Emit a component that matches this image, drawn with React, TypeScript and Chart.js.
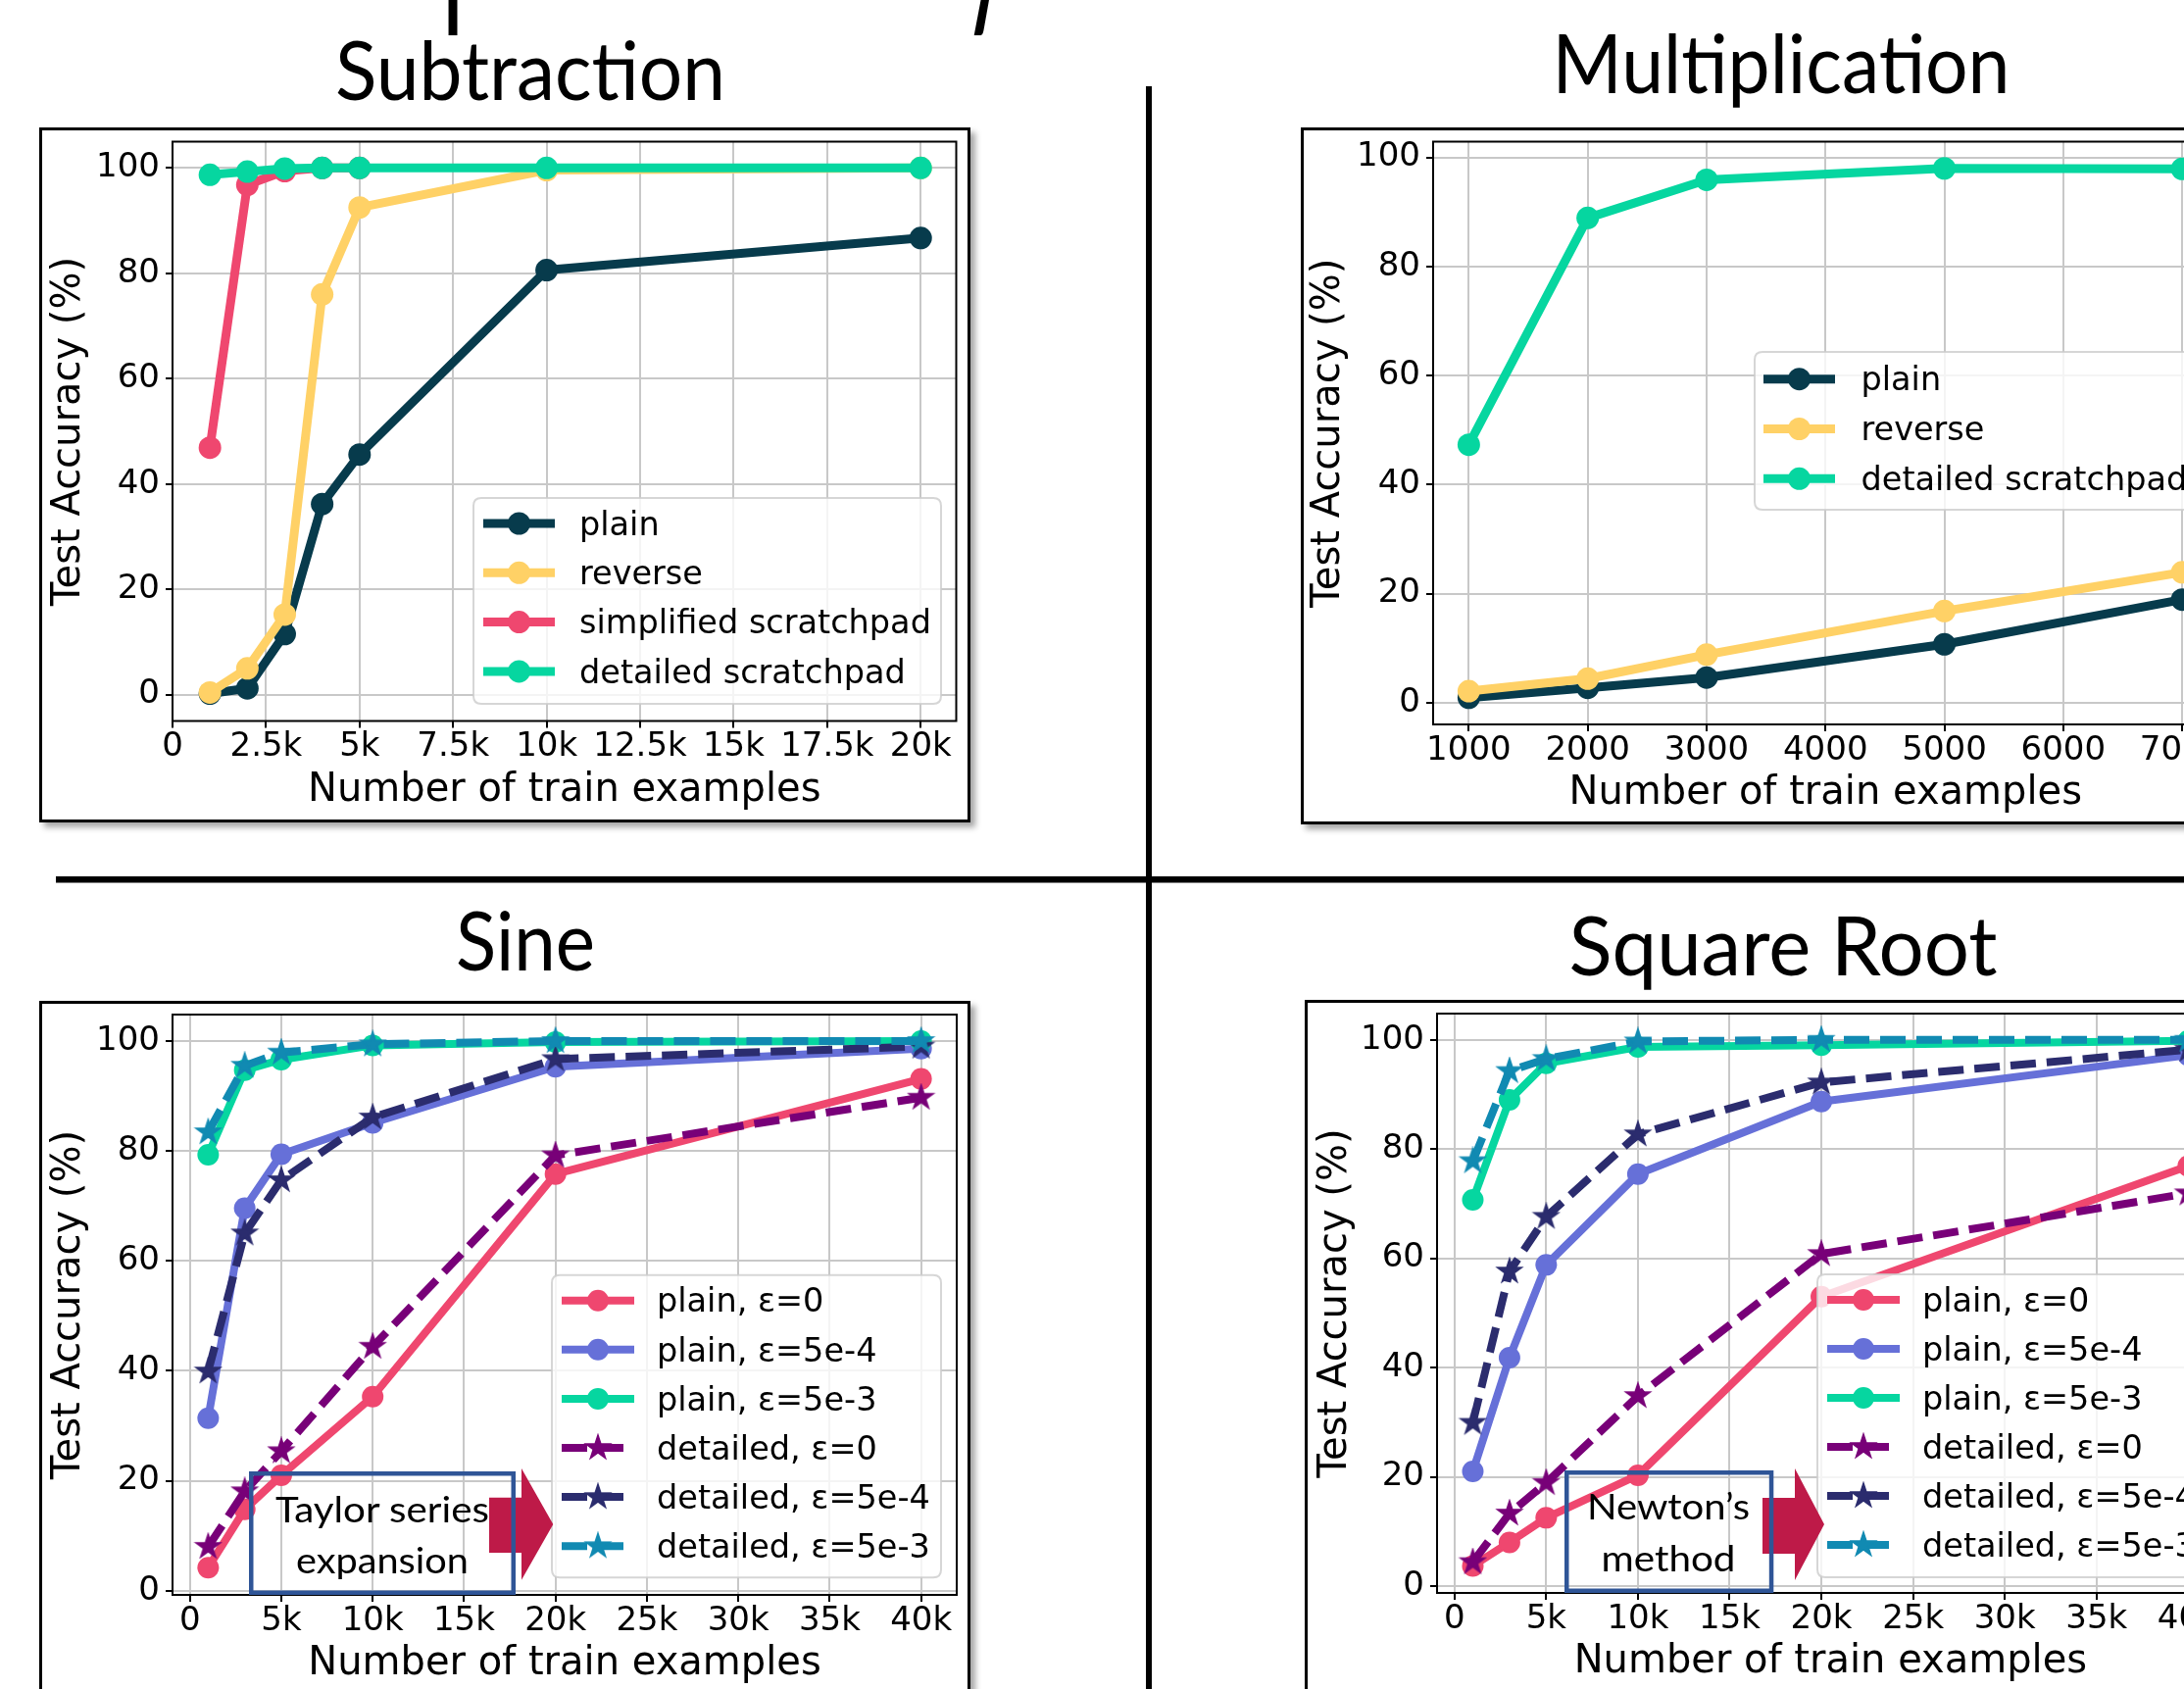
import React, { useEffect, useRef } from 'react';
import { Chart, registerables } from 'chart.js';

Chart.register(...registerables);

const FONT = "'DejaVu Sans', sans-serif";
const TITLE_FONT = "Lato, 'Open Sans', sans-serif";

// ---------------- data ----------------
const accTicks = [0, 20, 40, 60, 80, 100];

const subX = [1000, 2000, 3000, 4000, 5000, 10000, 20000];
const subSimpX = [1000, 2000, 3000, 4000, 5000];
const subPlain = [0.2, 1.2, 11.5, 36.2, 45.6, 80.6, 86.7];
const subReverse = [0.4, 5.0, 15.2, 76.0, 92.5, 99.6, 100];
const subSimplified = [46.9, 96.8, 99.4, 100, 100];
const subDetailed = [98.7, 99.3, 99.9, 100, 100, 100, 100];
const subXTicks = [0, 2500, 5000, 7500, 10000, 12500, 15000, 17500, 20000];
const subXTickLabels = ['0', '2.5k', '5k', '7.5k', '10k', '12.5k', '15k', '17.5k', '20k'];

const mulX = [1000, 2000, 3000, 5000, 7000];
const mulPlain = [0.9, 2.7, 4.6, 10.7, 18.9];
const mulReverse = [2.1, 4.4, 8.8, 16.8, 23.9];
const mulDetailed = [47.3, 88.9, 95.9, 98.0, 97.9];
const mulXTicks = [1000, 2000, 3000, 4000, 5000, 6000, 7000];
const mulXTickLabels = ['1000', '2000', '3000', '4000', '5000', '6000', '7000'];

const fnX = [1000, 3000, 5000, 10000, 20000, 40000];
const fnXTicks = [0, 5000, 10000, 15000, 20000, 25000, 30000, 35000, 40000];
const fnXTickLabels = ['0', '5k', '10k', '15k', '20k', '25k', '30k', '35k', '40k'];

const sinPlain0 = [4.2, 14.8, 21.0, 35.3, 75.8, 93.1];
const sinPlain5e4 = [31.4, 69.6, 79.4, 85.1, 95.3, 98.6];
const sinPlain5e3 = [79.3, 94.7, 96.6, 99.2, 99.8, 100];
const sinDet0 = [8.0, 18.1, 25.4, 44.4, 79.2, 89.7];
const sinDet5e4 = [39.9, 65.0, 74.7, 86.1, 96.7, 99.0];
const sinDet5e3 = [83.4, 95.5, 97.9, 99.4, 100, 100];

const sqrtPlain0 = [3.7, 8.0, 12.5, 20.3, 53.0, 76.9];
const sqrtPlain5e4 = [21.0, 41.8, 58.8, 75.4, 88.7, 97.2];
const sqrtPlain5e3 = [70.7, 89.0, 95.7, 98.7, 99.0, 99.8];
const sqrtDet0 = [4.4, 13.3, 18.9, 34.8, 60.8, 71.9];
const sqrtDet5e4 = [29.9, 57.6, 67.6, 82.7, 92.2, 98.2];
const sqrtDet5e3 = [77.8, 94.3, 96.5, 99.7, 100, 100];

const fnLabels = ['plain, ε=0', 'plain, ε=5e-4', 'plain, ε=5e-3', 'detailed, ε=0', 'detailed, ε=5e-4', 'detailed, ε=5e-3'];

// ---------------- styles ----------------
const C = {
  dark: '#073b4c',
  yellow: '#ffd166',
  pink: '#ef476f',
  green: '#06d6a0',
  blue: '#118ab2',
  peri: '#6670d8',
  purple: '#780078',
  navy: '#2b2c6e',
};
const GRID = '#c8c8c8';

type Series = { label: string; xs: number[]; ys: number[]; color: string; dashed?: boolean; star?: boolean };
type Legend = { x: number; y: number; w: number; h: number; first: number; spacing: number; lineOff: number; lineLen: number; textOff: number };
type Spec = {
  cx: number; cy: number; cw: number; ch: number;
  area: { l: number; t: number; r: number; b: number };
  xMin: number; xMax: number; yMin: number; yMax: number;
  xTicks: number[]; xTickLabels: string[];
  series: Series[];
  lw: number; mr: number; sr: number;
  yTitleCenter: number; xTitleFromBottom: number;
  legend: Legend;
};

function makeStar(color: string, R: number): HTMLCanvasElement {
  const s = Math.ceil(2 * R + 4);
  const c = document.createElement('canvas');
  c.width = s;
  c.height = s;
  const ctx = c.getContext('2d')!;
  const cx = s / 2, cy = s / 2, r = R * 0.382;
  ctx.beginPath();
  for (let i = 0; i < 10; i++) {
    const rad = i % 2 === 0 ? R : r;
    const a = -Math.PI / 2 + (i * Math.PI) / 5;
    ctx.lineTo(cx + rad * Math.cos(a), cy + rad * Math.sin(a));
  }
  ctx.closePath();
  ctx.fillStyle = color;
  ctx.fill();
  ctx.lineWidth = 1.5;
  ctx.strokeStyle = color;
  ctx.stroke();
  return c;
}

function buildConfig(spec: Spec): any {
  const { cx, cy, cw, ch, area } = spec;
  const yW = area.l - cx;
  const padTop = area.t - cy;
  const padRight = cx + cw - area.r;
  const xH = cy + ch - area.b;
  const dash = [26, 11];

  const datasets = spec.series.map((s, i) => ({
    label: s.label,
    data: s.xs.map((x, j) => ({ x, y: s.ys[j] })),
    borderColor: s.color,
    backgroundColor: s.color,
    borderWidth: spec.lw,
    borderDash: s.dashed ? dash : [],
    borderJoinStyle: 'round',
    borderCapStyle: 'butt',
    pointStyle: s.star ? makeStar(s.color, spec.sr) : 'circle',
    pointRadius: spec.mr,
    pointHoverRadius: spec.mr,
    pointBorderWidth: 0,
    pointBackgroundColor: s.color,
    tension: 0,
    fill: false,
    order: -i,
  }));

  const spinePlugin = {
    id: 'spines',
    afterDatasetsDraw(chart: any) {
      const { ctx, chartArea: a } = chart;
      ctx.save();
      ctx.strokeStyle = '#000';
      ctx.lineWidth = 2;
      ctx.strokeRect(a.left, a.top, a.right - a.left, a.bottom - a.top);
      ctx.restore();
    },
  };

  const lg = spec.legend;
  const legendPlugin = {
    id: 'mplLegend',
    afterDraw(chart: any) {
      const ctx = chart.ctx;
      const x = lg.x - cx, y = lg.y - cy;
      ctx.save();
      const rr = 8;
      ctx.beginPath();
      ctx.moveTo(x + rr, y);
      ctx.lineTo(x + lg.w - rr, y);
      ctx.quadraticCurveTo(x + lg.w, y, x + lg.w, y + rr);
      ctx.lineTo(x + lg.w, y + lg.h - rr);
      ctx.quadraticCurveTo(x + lg.w, y + lg.h, x + lg.w - rr, y + lg.h);
      ctx.lineTo(x + rr, y + lg.h);
      ctx.quadraticCurveTo(x, y + lg.h, x, y + lg.h - rr);
      ctx.lineTo(x, y + rr);
      ctx.quadraticCurveTo(x, y, x + rr, y);
      ctx.closePath();
      ctx.fillStyle = 'rgba(255,255,255,0.8)';
      ctx.fill();
      ctx.strokeStyle = 'rgba(204,204,204,0.8)';
      ctx.lineWidth = 2;
      ctx.stroke();
      chart.data.datasets.forEach((ds: any, i: number) => {
        const yy = y + lg.first + i * lg.spacing;
        const x0 = x + lg.lineOff;
        ctx.save();
        ctx.strokeStyle = ds.borderColor;
        ctx.lineWidth = ds.borderWidth;
        ctx.setLineDash(ds.borderDash || []);
        ctx.beginPath();
        ctx.moveTo(x0, yy);
        ctx.lineTo(x0 + lg.lineLen, yy);
        ctx.stroke();
        ctx.restore();
        const mx = x0 + lg.lineLen / 2;
        if (typeof ds.pointStyle === 'object') {
          const img = ds.pointStyle as HTMLCanvasElement;
          ctx.drawImage(img, mx - img.width / 2, yy - img.height / 2);
        } else {
          ctx.beginPath();
          ctx.arc(mx, yy, ds.pointRadius, 0, Math.PI * 2);
          ctx.fillStyle = ds.borderColor;
          ctx.fill();
        }
        ctx.fillStyle = '#000';
        ctx.font = `33.5px ${FONT}`;
        ctx.textBaseline = 'middle';
        ctx.textAlign = 'left';
        ctx.fillText(ds.label, x + lg.textOff, yy + 3);
      });
      ctx.restore();
    },
  };

  const tickFont = { family: FONT, size: 34, lineHeight: 1 };
  const titleFont = { family: FONT, size: 40, lineHeight: 1 };

  return {
    type: 'line',
    data: { datasets },
    plugins: [spinePlugin, legendPlugin],
    options: {
      animation: false,
      responsive: false,
      maintainAspectRatio: false,
      devicePixelRatio: 1,
      events: [],
      layout: { padding: { top: padTop, right: padRight, left: 0, bottom: 0 } },
      plugins: { legend: { display: false }, tooltip: { enabled: false }, title: { display: false } },
      scales: {
        x: {
          type: 'linear',
          position: 'bottom',
          min: spec.xMin,
          max: spec.xMax,
          afterBuildTicks: (s: any) => {
            s.ticks = spec.xTicks.map((v) => ({ value: v }));
          },
          afterFit: (s: any) => {
            s.height = xH;
            s.paddingLeft = 0;
            s.paddingRight = 0;
          },
          ticks: {
            autoSkip: false,
            maxRotation: 0,
            minRotation: 0,
            padding: 3,
            color: '#000',
            font: tickFont,
            callback: (v: any) => {
              const i = spec.xTicks.indexOf(Number(v));
              return i >= 0 ? spec.xTickLabels[i] : '';
            },
          },
          grid: { color: GRID, lineWidth: 2, drawTicks: true, tickLength: 7, tickColor: '#000', tickWidth: 2 },
          border: { display: false },
          title: {
            display: true,
            text: 'Number of train examples',
            color: '#000',
            font: titleFont,
            padding: { top: 0, bottom: spec.xTitleFromBottom - 20 },
          },
        },
        y: {
          type: 'linear',
          position: 'left',
          min: spec.yMin,
          max: spec.yMax,
          afterBuildTicks: (s: any) => {
            s.ticks = accTicks.map((v) => ({ value: v }));
          },
          afterFit: (s: any) => {
            s.width = yW;
            s.paddingTop = 0;
            s.paddingBottom = 0;
          },
          ticks: { autoSkip: false, padding: 6, color: '#000', font: tickFont },
          grid: { color: GRID, lineWidth: 2, drawTicks: true, tickLength: 7, tickColor: '#000', tickWidth: 2 },
          border: { display: false },
          title: {
            display: true,
            text: 'Test Accuracy (%)',
            color: '#000',
            font: titleFont,
            padding: { top: spec.yTitleCenter - 20, bottom: 0 },
          },
        },
      },
    },
  };
}

const fnSeries = (ys: number[][]): Series[] => [
  { label: fnLabels[0], xs: fnX, ys: ys[0], color: C.pink },
  { label: fnLabels[1], xs: fnX, ys: ys[1], color: C.peri },
  { label: fnLabels[2], xs: fnX, ys: ys[2], color: C.green },
  { label: fnLabels[3], xs: fnX, ys: ys[3], color: C.purple, dashed: true, star: true },
  { label: fnLabels[4], xs: fnX, ys: ys[4], color: C.navy, dashed: true, star: true },
  { label: fnLabels[5], xs: fnX, ys: ys[5], color: C.blue, dashed: true, star: true },
];

const specs: Spec[] = [
  {
    cx: 43, cy: 133, cw: 944, ch: 703,
    area: { l: 176, t: 143, r: 976, b: 735.5 },
    xMin: 0, xMax: 20950, yMin: -5, yMax: 105,
    xTicks: subXTicks, xTickLabels: subXTickLabels,
    series: [
      { label: 'plain', xs: subX, ys: subPlain, color: C.dark },
      { label: 'reverse', xs: subX, ys: subReverse, color: C.yellow },
      { label: 'simplified scratchpad', xs: subSimpX, ys: subSimplified, color: C.pink },
      { label: 'detailed scratchpad', xs: subX, ys: subDetailed, color: C.green },
    ],
    lw: 9, mr: 11.5, sr: 13,
    yTitleCenter: 28, xTitleFromBottom: 29.5,
    legend: { x: 483, y: 508, w: 477, h: 210, first: 26, spacing: 50.3, lineOff: 10, lineLen: 73, textOff: 108 },
  },
  {
    cx: 1330, cy: 133, cw: 944, ch: 705,
    area: { l: 1462, t: 141, r: 2263, b: 739 },
    xMin: 700, xMax: 7300, yMin: -4.0, yMax: 102.9,
    xTicks: mulXTicks, xTickLabels: mulXTickLabels,
    series: [
      { label: 'plain', xs: mulX, ys: mulPlain, color: C.dark },
      { label: 'reverse', xs: mulX, ys: mulReverse, color: C.yellow },
      { label: 'detailed scratchpad', xs: mulX, ys: mulDetailed, color: C.green },
    ],
    lw: 9, mr: 11.5, sr: 13,
    yTitleCenter: 26, xTitleFromBottom: 28,
    legend: { x: 1790, y: 359, w: 451, h: 161, first: 27.7, spacing: 50.8, lineOff: 9, lineLen: 73, textOff: 108.5 },
  },
  {
    cx: 43, cy: 1024, cw: 944, ch: 703,
    area: { l: 176, t: 1035, r: 976, b: 1627 },
    xMin: -950, xMax: 41950, yMin: -0.75, yMax: 104.8,
    xTicks: fnXTicks, xTickLabels: fnXTickLabels,
    series: fnSeries([sinPlain0, sinPlain5e4, sinPlain5e3, sinDet0, sinDet5e4, sinDet5e3]),
    lw: 8, mr: 11, sr: 13,
    yTitleCenter: 28, xTitleFromBottom: 29.5,
    legend: { x: 563, y: 1300.7, w: 397, h: 308.6, first: 26, spacing: 50.1, lineOff: 10, lineLen: 74, textOff: 107 },
  },
  {
    cx: 1334, cy: 1023, cw: 946, ch: 704,
    area: { l: 1466, t: 1032.7, r: 2268.8, b: 1625 },
    xMin: -950, xMax: 41950, yMin: -1.25, yMax: 104.8,
    xTicks: fnXTicks, xTickLabels: fnXTickLabels,
    series: fnSeries([sqrtPlain0, sqrtPlain5e4, sqrtPlain5e3, sqrtDet0, sqrtDet5e4, sqrtDet5e3]),
    lw: 8, mr: 11, sr: 13,
    yTitleCenter: 28.5, xTitleFromBottom: 31,
    legend: { x: 1854, y: 1300, w: 397, h: 309, first: 26, spacing: 50, lineOff: 10, lineLen: 74, textOff: 107 },
  },
];

function Plot({ spec }: { spec: Spec }) {
  const ref = useRef<HTMLCanvasElement>(null);
  useEffect(() => {
    const chart = new Chart(ref.current as HTMLCanvasElement, buildConfig(spec));
    return () => chart.destroy();
  }, [spec]);
  return (
    <canvas
      ref={ref}
      width={spec.cw}
      height={spec.ch}
      style={{ position: 'absolute', left: spec.cx, top: spec.cy, width: spec.cw, height: spec.ch }}
    />
  );
}

const frames = [
  { l: 40, t: 129.5, w: 950, h: 709.5 },
  { l: 1327, t: 130, w: 960, h: 711 },
  { l: 40, t: 1021, w: 950, h: 712 },
  { l: 1331, t: 1020, w: 960, h: 712 },
];

export default function App() {
  return (
    <div style={{ position: 'fixed', left: 0, top: 0, width: 2228, height: 1723, overflow: 'hidden', background: '#fff' }}>
      {frames.map((f, i) => (
        <div
          key={i}
          style={{
            position: 'absolute',
            left: f.l,
            top: f.t,
            width: f.w,
            height: f.h,
            boxSizing: 'border-box',
            border: '3px solid #000',
            background: '#fff',
            boxShadow: '5px 5px 6px rgba(0,0,0,0.35)',
          }}
        />
      ))}
      {specs.map((s, i) => (
        <Plot key={i} spec={s} />
      ))}
      <svg
        width={2228}
        height={1723}
        style={{ position: 'absolute', left: 0, top: 0, pointerEvents: 'none' }}
      >
        {/* dividers */}
        <rect x={1169} y={88} width={6} height={1640} fill="#000" />
        <rect x={57} y={894} width={2180} height={6.5} fill="#000" />
        {/* cropped main title */}
        <text
          transform="translate(265,-5) scale(1,2.4)"
          fontFamily={TITLE_FONT}
          fontSize={100}
          fill="#000"
        >
          Sample Efficiency
        </text>
        {/* panel titles */}
        <g fontFamily={TITLE_FONT} fontSize={83} fill="#000" textAnchor="middle">
          <text x={541} y={102} textLength={398} lengthAdjust="spacingAndGlyphs">Subtraction</text>
          <text x={1817} y={95} textLength={467} lengthAdjust="spacingAndGlyphs">Multiplication</text>
          <text x={536} y={990} textLength={142} lengthAdjust="spacingAndGlyphs">Sine</text>
          <text x={1819} y={995} textLength={437} lengthAdjust="spacingAndGlyphs">Square Root</text>
        </g>
        {/* annotations */}
        <polygon points="499,1527.7 532,1527.7 532,1498 564.3,1555 532,1611.7 532,1584 499,1584" fill="#be1a48" />
        <polygon points="1798,1528 1831,1528 1831,1498 1861,1555 1831,1612 1831,1585 1798,1585" fill="#be1a48" />
        <rect x={256.25} y={1503.25} width={267.5} height={121.5} fill="none" stroke="#2f5597" strokeWidth={4.5} />
        <rect x={1598.25} y={1502.25} width={208.8} height={120.5} fill="none" stroke="#2f5597" strokeWidth={4.5} />
        <g fontFamily={TITLE_FONT} fontSize={36} fill="#000" textAnchor="middle">
          <text x={390} y={1553} textLength={218} lengthAdjust="spacingAndGlyphs">Taylor series</text>
          <text x={390} y={1605} textLength={176} lengthAdjust="spacingAndGlyphs">expansion</text>
          <text x={1702} y={1550} textLength={166} lengthAdjust="spacingAndGlyphs">Newton’s</text>
          <text x={1702} y={1603} textLength={137} lengthAdjust="spacingAndGlyphs">method</text>
        </g>
      </svg>
    </div>
  );
}
